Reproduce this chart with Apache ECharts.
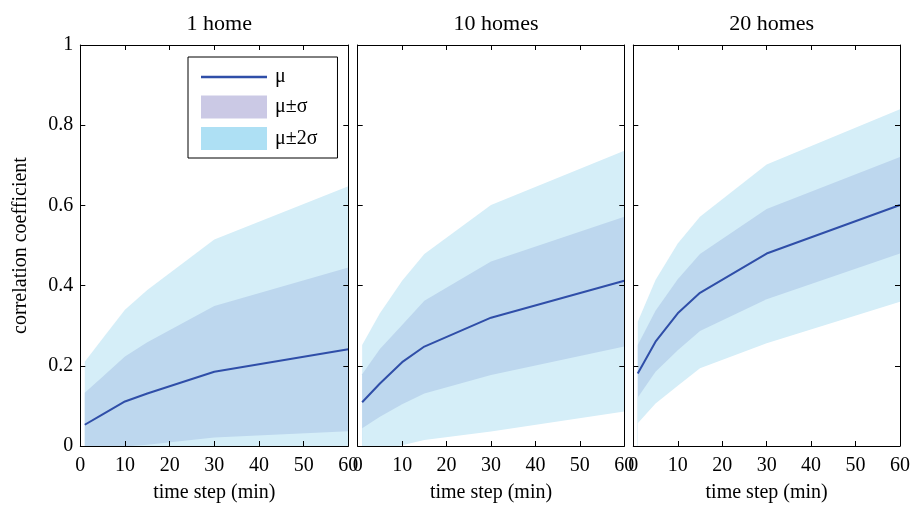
<!DOCTYPE html>
<html><head><meta charset="utf-8">
<script src="https://cdn.jsdelivr.net/npm/echarts@6/dist/echarts.min.js"></script>
<style>html,body{margin:0;padding:0;background:#fff}#c{width:914px;height:511px}</style>
</head><body><div id="c"></div>
<script>
// ---- data ----
const panelTitles = ['1 home', '10 homes', '20 homes'];
const timeSteps = [1, 5, 10, 15, 30, 60];
const xTickInterval = 10;
const yTickInterval = 0.2;

const mean_1   = [0.053, 0.079, 0.111, 0.131, 0.185, 0.241];
const upper1_1 = [0.133, 0.173, 0.223, 0.259, 0.349, 0.445];
const lower1_1 = [-0.027, -0.015, -0.001, 0.003, 0.021, 0.037];
const upper2_1 = [0.210, 0.268, 0.340, 0.389, 0.515, 0.648];
const lower2_1 = [-0.106, -0.110, -0.112, -0.125, -0.143, -0.167];

const mean_10   = [0.109, 0.156, 0.209, 0.248, 0.320, 0.412];
const upper1_10 = [0.179, 0.242, 0.302, 0.362, 0.460, 0.572];
const lower1_10 = [0.044, 0.073, 0.104, 0.131, 0.177, 0.248];
const upper2_10 = [0.252, 0.331, 0.412, 0.479, 0.601, 0.736];
const lower2_10 = [-0.025, -0.012, 0.002, 0.015, 0.036, 0.086];

const mean_20   = [0.181, 0.260, 0.331, 0.382, 0.480, 0.601];
const upper1_20 = [0.252, 0.337, 0.416, 0.479, 0.591, 0.721];
const lower1_20 = [0.121, 0.185, 0.239, 0.287, 0.366, 0.480];
const upper2_20 = [0.310, 0.414, 0.505, 0.572, 0.702, 0.840];
const lower2_20 = [0.057, 0.106, 0.150, 0.194, 0.256, 0.360];

const panels = [
  {mean: mean_1,  u1: upper1_1,  l1: lower1_1,  u2: upper2_1,  l2: lower2_1},
  {mean: mean_10, u1: upper1_10, l1: lower1_10, u2: upper2_10, l2: lower2_10},
  {mean: mean_20, u1: upper1_20, l1: lower1_20, u2: upper2_20, l2: lower2_20}
];

// ---- style ----
const FONT = 'Liberation Serif';
const colMean = '#2f4ea8';
const col2sFill = '#d5eef8';
const col1sFill = '#bdd7ee';
const col1sLegend = '#cbc9e5';
const col2sLegend = '#aee0f4';
const gridLeft = [80.3, 357.7, 633.3];
const gridWidth = [268, 266.6, 266.7];
const gridTop = 45, gridHeight = 401;

const grids = [], xAxes = [], yAxes = [], series = [], titles = [];
const pairs = (arr) => timeSteps.map((t, i) => [t, arr[i]]);

panels.forEach((p, k) => {
  grids.push({left: gridLeft[k], top: gridTop, width: gridWidth[k], height: gridHeight});
  titles.push({
    text: panelTitles[k], left: gridLeft[k] + gridWidth[k] / 2, top: 8, textAlign: 'center',
    textStyle: {fontFamily: FONT, fontSize: 22, fontWeight: 'normal', color: '#000'}
  });
  xAxes.push({
    type: 'value', gridIndex: k, min: 0, max: 60, interval: xTickInterval, z: 10,
    position: 'bottom',
    axisLine: {show: true, onZero: false, lineStyle: {color: '#000', width: 1}},
    axisTick: {show: true, inside: true, length: 5, lineStyle: {color: '#000'}},
    splitLine: {show: false},
    axisLabel: {show: true, margin: 10, color: '#000', fontFamily: FONT, fontSize: 20},
    name: 'time step (min)', nameLocation: 'middle', nameGap: 37,
    nameTextStyle: {fontFamily: FONT, fontSize: 20, color: '#000'}
  });
  yAxes.push({
    type: 'value', gridIndex: k, min: 0, max: 1, interval: yTickInterval, z: 10,
    position: 'left',
    axisLine: {show: true, onZero: false, lineStyle: {color: '#000', width: 1}},
    axisTick: {show: true, inside: true, length: 5, lineStyle: {color: '#000'}},
    splitLine: {show: false},
    axisLabel: {show: k === 0, margin: 7, color: '#000', fontFamily: FONT, fontSize: 20},
    name: k === 0 ? 'correlation coefficient' : '', nameLocation: 'middle', nameGap: 50, nameRotate: 90,
    nameTextStyle: {fontFamily: FONT, fontSize: 20, color: '#000'}
  });

  // painter's order: each band boundary filled down to the axis floor
  const area = (name, data, color, fill, z) => ({
    type: 'line', name: name, xAxisIndex: k, yAxisIndex: k, data: data,
    symbol: 'none', showSymbol: false,
    lineStyle: {width: 0, opacity: 0}, itemStyle: {color: color},
    areaStyle: {color: fill, opacity: 1, origin: 'start'},
    clip: true, z: z, silent: true
  });
  series.push(area('μ±2σ', pairs(p.u2), col2sLegend, col2sFill, 1));
  series.push(area('μ±σ', pairs(p.u1), col1sLegend, col1sFill, 1.1));
  series.push(area('μ±2σ', pairs(p.l1), col2sLegend, col2sFill, 1.2));
  series.push(area('floor' + k, pairs(p.l2), '#ffffff', '#ffffff', 1.3));
  series.push({
    type: 'line', name: 'μ', xAxisIndex: k, yAxisIndex: k, data: pairs(p.mean),
    symbol: 'none', showSymbol: false, lineStyle: {color: colMean, width: 2}, itemStyle: {color: colMean},
    clip: true, z: 3
  });
});
// box: top & right axes
panels.forEach((p, k) => {
  xAxes.push({
    type: 'value', gridIndex: k, min: 0, max: 60, interval: xTickInterval, position: 'top', z: 10,
    axisLine: {show: true, onZero: false, lineStyle: {color: '#000', width: 1}},
    axisTick: {show: true, inside: true, length: 5, lineStyle: {color: '#000'}},
    axisLabel: {show: false}, splitLine: {show: false}
  });
  yAxes.push({
    type: 'value', gridIndex: k, min: 0, max: 1, interval: yTickInterval, position: 'right', z: 10,
    axisLine: {show: true, onZero: false, lineStyle: {color: '#000', width: 1}},
    axisTick: {show: true, inside: true, length: 5, lineStyle: {color: '#000'}},
    axisLabel: {show: false}, splitLine: {show: false}
  });
});

const chart = echarts.init(document.getElementById('c'), null, {renderer: 'canvas'});
chart.setOption({
  animation: false,
  backgroundColor: '#fff',
  title: titles,
  grid: grids,
  xAxis: xAxes,
  yAxis: yAxes,
  legend: {
    orient: 'vertical', left: 188, top: 57, z: 20,
    itemWidth: 66, itemHeight: 23, itemGap: 8.5,
    padding: [10, 20, 8, 13],
    backgroundColor: '#fff', borderColor: '#000', borderWidth: 1, borderRadius: 0,
    selectedMode: false,
    textStyle: {fontFamily: FONT, fontSize: 20, color: '#000', padding: [0, 0, 0, 3]},
    data: [
      {name: 'μ', icon: 'path://M0,0H264V10H0Z', itemStyle: {color: colMean}},
      {name: 'μ±σ', icon: 'rect', itemStyle: {color: col1sLegend}},
      {name: 'μ±2σ', icon: 'rect', itemStyle: {color: col2sLegend}}
    ]
  },
  series: series
});
</script>
</body></html>
